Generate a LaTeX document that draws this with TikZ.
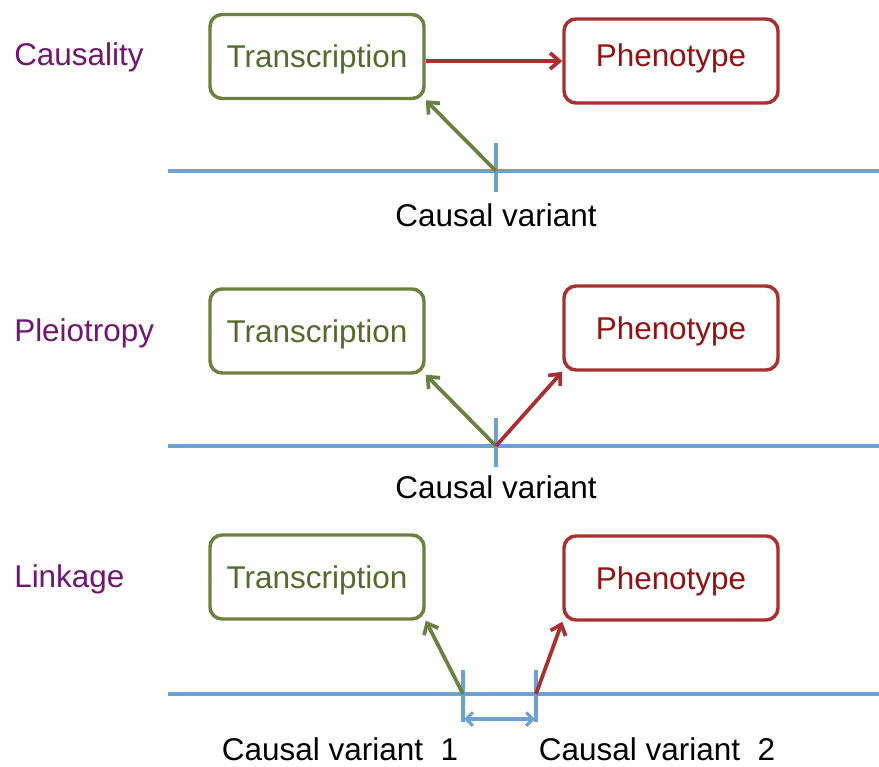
\documentclass[tikz,border=0pt]{standalone}
\usepackage{fontspec}
\setmainfont{Liberation Sans}
\usetikzlibrary{arrows.meta}
\definecolor{olivetext}{RGB}{84,106,42}
\definecolor{oliveline}{RGB}{108,128,66}
\definecolor{redtext}{RGB}{145,18,18}
\definecolor{redline}{RGB}{168,48,48}
\definecolor{chrom}{RGB}{110,160,208}
\definecolor{headcol}{RGB}{112,22,112}
\def\pu{0.75pt}
\tikzset{
  every node/.style={font=\fontsize{23.6}{28}\selectfont, inner sep=0pt},
  box/.style={draw, rounded corners=9pt, line width=2.6pt,
    minimum width=214*\pu, minimum height=84*\pu,
    text height=16.9pt, text depth=0pt},
  tbox/.style={box, draw=oliveline, text=olivetext},
  pbox/.style={box, draw=redline, text=redtext},
  heading/.style={anchor=base west, text=headcol},
  varlabel/.style={anchor=base, text=black},
  chromline/.style={draw=chrom, line width=2.8pt},
  tick/.style={draw=chrom, line width=2.8pt},
  tipbarb/.style={-{Straight Barb[length=7pt,width=12pt]}},
  greenarrow/.style={tipbarb, draw=oliveline, line width=2.8pt},
  redarrow/.style={tipbarb, draw=redline, line width=2.8pt},
  spanarrow/.style={{Straight Barb[length=5pt,width=10pt]}-{Straight Barb[length=5pt,width=10pt]},
    draw=chrom, line width=2.3pt},
}
\begin{document}
\begin{tikzpicture}[x=0.75pt, y=-0.75pt]
\useasboundingbox (0,0) rectangle (879,767);

% --- Causality ---
\node[heading] (h1) at (14,66) {Causality};
\node[tbox] (t1) at (317,56.5) {Transcription};
\node[pbox, text depth=9pt] (p1) at (671,61) {Phenotype};
\coordinate (l1a) at (168,171);
\coordinate (l1b) at (879,171);
\coordinate (v1) at (496,171);
\coordinate (v1top) at (496,143);
\coordinate (v1bot) at (496,192);
\draw[chromline] (l1a) -- (l1b);
\draw[tick] (v1top) -- (v1bot);
\draw[redarrow] (t1.east |- p1.west) -- (p1.west);
\draw[greenarrow] (v1) -- (t1.south east);
\node[varlabel] (c1) at (496,226) {Causal variant};

% --- Pleiotropy ---
\node[heading] (h2) at (14,341) {Pleiotropy};
\node[tbox] (t2) at (317,331) {Transcription};
\node[pbox] (p2) at (671,328) {Phenotype};
\coordinate (l2a) at (168,446);
\coordinate (l2b) at (879,446);
\coordinate (v2) at (496,446);
\coordinate (v2top) at (496,418);
\coordinate (v2bot) at (496,467);
\draw[chromline] (l2a) -- (l2b);
\draw[tick] (v2top) -- (v2bot);
\draw[greenarrow] (v2) -- (t2.south east);
\draw[redarrow] (v2) -- (p2.south west);
\node[varlabel] (c2) at (496,498) {Causal variant};

% --- Linkage ---
\node[heading] (h3) at (14,587) {Linkage};
\node[tbox] (t3) at (317,577) {Transcription};
\node[pbox] (p3) at (671,578) {Phenotype};
\coordinate (l3a) at (168,694);
\coordinate (l3b) at (879,694);
\coordinate (va) at (463,694);
\coordinate (vb) at (536,694);
\coordinate (vatop) at (463,670);
\coordinate (vabot) at (463,722);
\coordinate (vbtop) at (536,670);
\coordinate (vbbot) at (536,722);
\coordinate (sa) at (464,719);
\coordinate (sb) at (535,719);
\draw[chromline] (l3a) -- (l3b);
\draw[tick] (vatop) -- (vabot);
\draw[tick] (vbtop) -- (vbbot);
\draw[spanarrow] (sa) -- (sb);
\draw[greenarrow] (va) -- (t3.south east);
\draw[redarrow] (vb) -- (p3.south west);
\node[varlabel] (c3) at (340,760) {Causal variant\ \ 1};
\node[varlabel] (c4) at (657,760) {Causal variant\ \ 2};
\end{tikzpicture}
\end{document}
